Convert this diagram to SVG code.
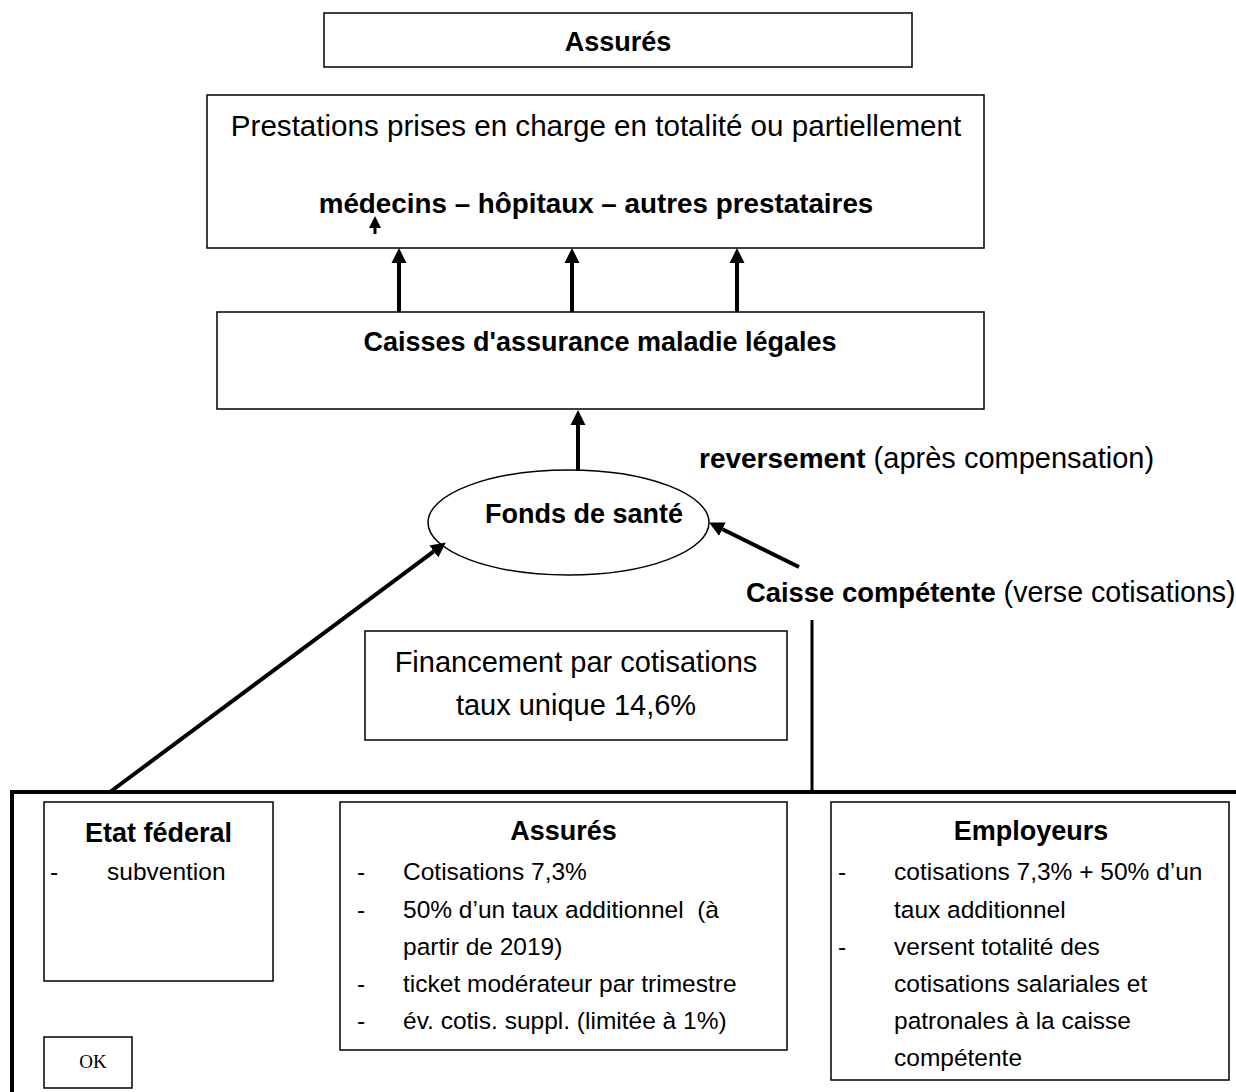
<svg xmlns="http://www.w3.org/2000/svg" width="1236" height="1092" viewBox="0 0 1236 1092">
<style>
text{font-family:"Liberation Sans",Arial,sans-serif;fill:#000}
.b{font-weight:bold;font-size:27px}
.r{font-size:29px}
.s{font-size:24.5px}
.c{text-anchor:middle}
.box{fill:#fff;stroke:#000;stroke-width:1.5}
.conn{stroke:#000;stroke-width:4;fill:none}
</style>
<defs>
<marker id="ah" markerUnits="userSpaceOnUse" markerWidth="16" markerHeight="16" viewBox="0 -8 16 16" refX="0" refY="0" orient="auto">
<path d="M0,-7.5 L15,0 L0,7.5 Z" fill="#000"/>
</marker>
<marker id="ahs" markerUnits="userSpaceOnUse" markerWidth="14" markerHeight="14" viewBox="0 -7 14 14" refX="0" refY="0" orient="auto">
<path d="M0,-6 L12,0 L0,6 Z" fill="#000"/>
</marker>
</defs>
<rect width="1236" height="1092" fill="#fff"/>

<g id="outer">
<rect x="12" y="792" width="1260" height="340" fill="none" stroke="#000" stroke-width="4"/>
</g>

<g id="assures-top">
<rect class="box" x="324" y="13" width="588" height="54"/>
<text class="b c" x="618" y="51">Assurés</text>
</g>

<g id="prestations">
<rect class="box" x="207" y="95" width="777" height="153"/>
<text class="c" x="596" y="136" style="font-size:29.6px">Prestations prises en charge en totalité ou partiellement</text>
<text class="b c" x="596" y="213" style="font-size:27.8px">médecins – hôpitaux – autres prestataires</text>
</g>

<g id="caisses">
<rect class="box" x="217" y="312" width="767" height="97"/>
<text class="b c" x="600" y="351">Caisses d'assurance maladie légales</text>
</g>

<g id="fonds">
<ellipse cx="568.5" cy="522.5" rx="140.5" ry="52.5" fill="#fff" stroke="#000" stroke-width="1.5"/>
<text class="b c" x="584" y="523">Fonds de santé</text>
</g>

<g id="reversement-label">
<text x="699" y="468" style="font-size:29px"><tspan font-weight="bold" style="font-size:28px">reversement</tspan> (après compensation)</text>
</g>

<g id="caisse-competente">
<text x="746" y="602" style="font-size:28.6px"><tspan font-weight="bold" style="font-size:27.4px">Caisse compétente</tspan> (verse cotisations)</text>
</g>

<g id="financement">
<rect class="box" x="365" y="631" width="422" height="109"/>
<text class="r c" x="576" y="672">Financement par cotisations</text>
<text class="r c" x="576" y="715">taux unique 14,6%</text>
</g>

<g id="etat">
<rect class="box" x="44" y="802" width="229" height="179"/>
<text class="b c" x="158.5" y="842">Etat féderal</text>
<text class="s" x="50" y="880">-</text>
<text class="s" x="107" y="880">subvention</text>
</g>

<g id="assures-bottom">
<rect class="box" x="340" y="802" width="447" height="248"/>
<text class="b c" x="563.5" y="840">Assurés</text>
<text class="s" x="357" y="880">-</text>
<text class="s" x="403" y="880">Cotisations 7,3%</text>
<text class="s" x="357" y="918">-</text>
<text class="s" x="403" y="918" style="white-space:pre">50% d’un taux additionnel  (à</text>
<text class="s" x="403" y="955">partir de 2019)</text>
<text class="s" x="357" y="992">-</text>
<text class="s" x="403" y="992">ticket modérateur par trimestre</text>
<text class="s" x="357" y="1029">-</text>
<text class="s" x="403" y="1029">év. cotis. suppl. (limitée à 1%)</text>
</g>

<g id="employeurs">
<rect class="box" x="831" y="802" width="398" height="278"/>
<text class="b c" x="1031" y="840">Employeurs</text>
<text class="s" x="838" y="880">-</text>
<text class="s" x="894" y="880">cotisations 7,3% + 50% d’un</text>
<text class="s" x="894" y="918">taux additionnel</text>
<text class="s" x="838" y="955">-</text>
<text class="s" x="894" y="955">versent totalité des</text>
<text class="s" x="894" y="992">cotisations salariales et</text>
<text class="s" x="894" y="1029">patronales à la caisse</text>
<text class="s" x="894" y="1066">compétente</text>
</g>

<g id="ok">
<rect class="box" x="44" y="1037" width="88" height="51"/>
<text x="93" y="1068" text-anchor="middle" style="font-family:'Liberation Serif','Times New Roman',serif;font-size:19px">OK</text>
</g>

<g id="connectors">
<line class="conn" x1="399" y1="312" x2="399" y2="263" marker-end="url(#ah)"/>
<line class="conn" x1="572" y1="312" x2="572" y2="263" marker-end="url(#ah)"/>
<line class="conn" x1="737" y1="312" x2="737" y2="263" marker-end="url(#ah)"/>
<line class="conn" x1="578" y1="471" x2="578" y2="425" marker-end="url(#ah)"/>
<line class="conn" x1="110" y1="792" x2="433.8" y2="551.4" marker-end="url(#ah)"/>
<line class="conn" x1="799" y1="567" x2="722.5" y2="529.2" marker-end="url(#ah)"/>
<line x1="812" y1="620" x2="812" y2="792" stroke="#000" stroke-width="3"/>
<line x1="375" y1="234" x2="375" y2="228" stroke="#000" stroke-width="3" marker-end="url(#ahs)"/>
</g>
</svg>
